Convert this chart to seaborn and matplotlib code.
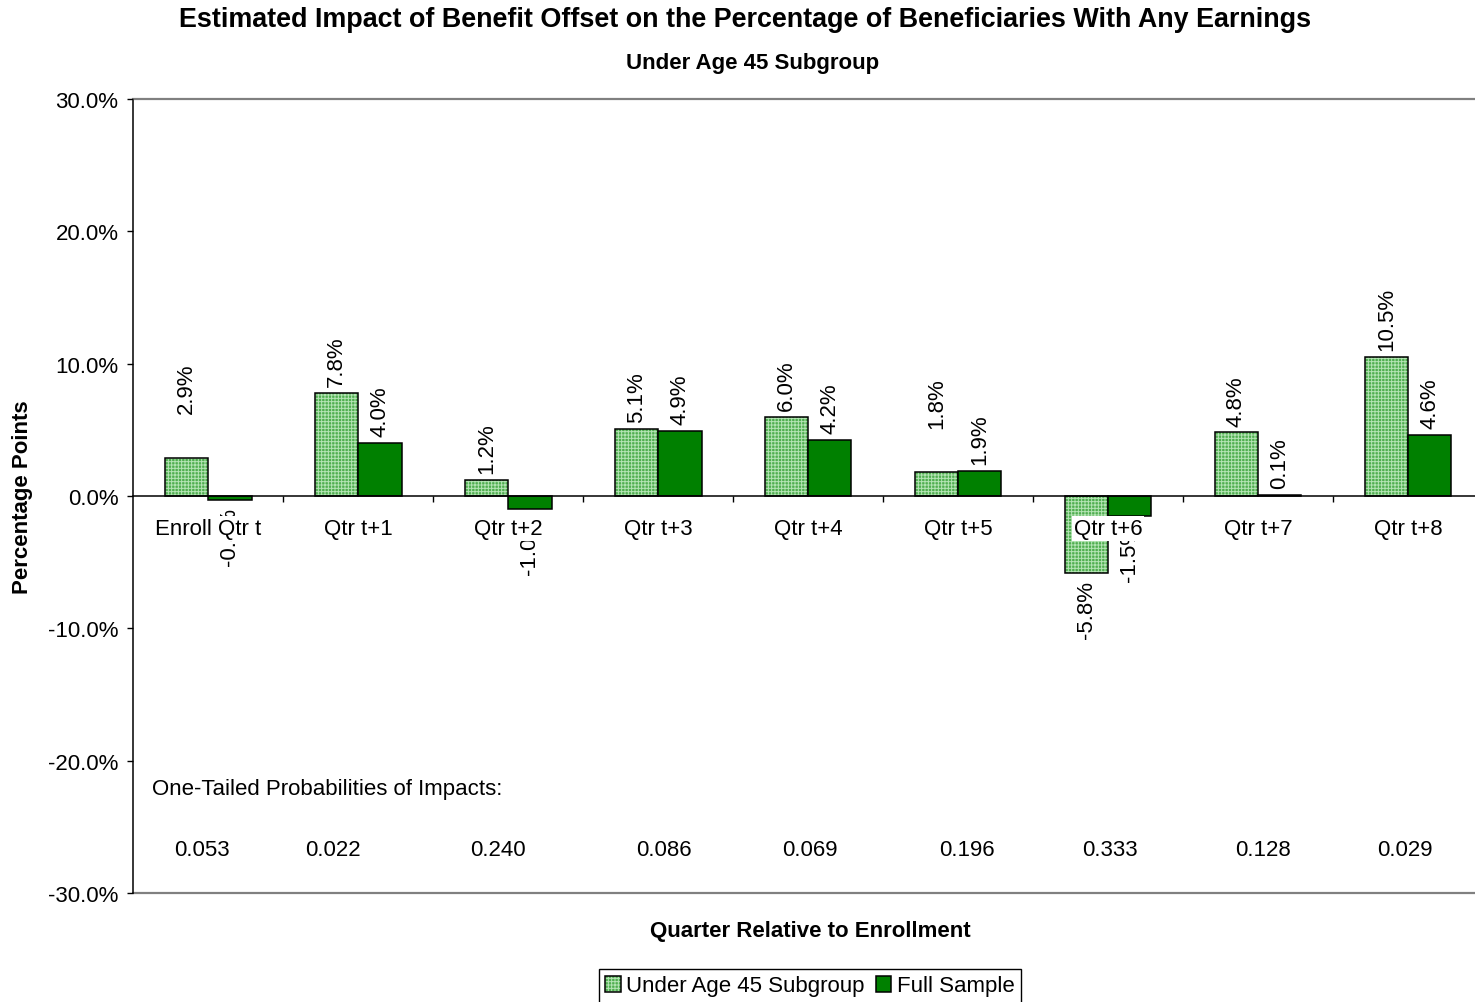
import numpy as np
import pandas as pd
import matplotlib
matplotlib.use("Agg")
import matplotlib.pyplot as plt
from matplotlib.colors import to_rgba
from matplotlib.patches import Patch
from matplotlib.ticker import FixedLocator, FuncFormatter
import seaborn as sns

# ---- data -------------------------------------------------------------
quarters = ["Enroll Qtr t", "Qtr t+1", "Qtr t+2", "Qtr t+3", "Qtr t+4",
            "Qtr t+5", "Qtr t+6", "Qtr t+7", "Qtr t+8"]
series_names = ["Under Age 45 Subgroup", "Full Sample"]
under45 = [2.9, 7.8, 1.2, 5.1, 6.0, 1.8, -5.8, 4.8, 10.5]
full_sample = [-0.3, 4.0, -1.0, 4.9, 4.2, 1.9, -1.5, 0.1, 4.6]
probabilities = ["0.053", "0.022", "0.240", "0.086", "0.069",
                 "0.196", "0.333", "0.128", "0.029"]
y_ticks = [-30, -20, -10, 0, 10, 20, 30]

# ---- styling / layout ---------------------------------------------------
LIGHT = "#4fae4f"
LIGHT_HATCH = "#b4e4b4"
DARK = "#008000"
GRAY = "#808080"
FS = 16
prob_x = [-0.04, 0.83, 1.93, 3.04, 4.01, 5.06, 6.01, 7.03, 7.98]
label_lift = {(0, 0): 27, (0, 5): 27}   # extra lift (points) for a few labels

df = pd.DataFrame({
    "Quarter": quarters * 2,
    "Impact": under45 + full_sample,
    "Series": [series_names[0]] * len(quarters) + [series_names[1]] * len(quarters),
})

sns.set_style("white")
plt.rcParams["font.family"] = ["Liberation Sans", "DejaVu Sans"]
plt.rcParams["hatch.linewidth"] = 0.7
for key in ["text.color", "axes.labelcolor", "xtick.color", "ytick.color"]:
    plt.rcParams[key] = "black"

W, H = 1475, 1003
fig = plt.figure(figsize=(W / 100, H / 100), dpi=100)
left_px, right_px, top_px, bot_px = 133, 1475, 100, 894
ax = fig.add_axes([left_px / W, 1 - bot_px / H, (right_px - left_px) / W,
                   (bot_px - top_px) / H])

sns.barplot(data=df, x="Quarter", y="Impact", hue="Series", order=quarters,
            hue_order=series_names, palette=[LIGHT, DARK], width=0.58,
            saturation=1, edgecolor="black", linewidth=1.1, errorbar=None,
            legend=False, ax=ax)
ax.set_axisbelow(False)

# checker-like fill on the subgroup bars
for bar in ax.containers[0]:
    bar.set_hatch("+++++")
    bar._hatch_color = to_rgba(LIGHT_HATCH)

ax.set_ylim(-30, 30)
ax.set_xlim(-0.5, -0.5 + (right_px - left_px) / 150)

ax.spines["bottom"].set_position(("data", 0))
ax.spines["bottom"].set_color("black")
ax.spines["bottom"].set_linewidth(1.1)
ax.spines["left"].set_color("black")
ax.spines["left"].set_linewidth(1.1)
ax.spines["top"].set_color(GRAY)
ax.spines["top"].set_linewidth(1.6)
ax.spines["right"].set_visible(False)
ax.axhline(-30, color=GRAY, lw=1.6, clip_on=False, zorder=2.5)

ax.set_yticks(y_ticks)
ax.yaxis.set_major_formatter(FuncFormatter(lambda v, p: f"{v:.1f}%"))
ax.tick_params(axis="y", direction="out", length=4.5, width=1, pad=6,
               labelsize=FS, left=True, color="black", labelcolor="black")

ax.set_xticks(range(len(quarters)))
ax.set_xticklabels(quarters)
ax.xaxis.set_minor_locator(FixedLocator(np.arange(0.5, len(quarters) - 0.5, 1)))
ax.tick_params(axis="x", which="major", length=0, pad=16, labelsize=FS,
               labelcolor="black")
ax.tick_params(axis="x", which="minor", direction="out", length=4.5, width=1,
               bottom=True, color="black")

# value labels above / below each bar (kept beneath the category labels)
for si, (cont, vals) in enumerate(zip(ax.containers, [under45, full_sample])):
    anns = ax.bar_label(cont, labels=[f"{v:.1f}%" for v in vals], padding=5,
                        rotation=90, fontsize=FS, zorder=2, color="black")
    for qi, ann in enumerate(anns):
        extra = label_lift.get((si, qi), 0)
        if extra:
            dx, dy = ann.xyann
            ann.xyann = (dx, dy + extra)

ax.set_ylabel("Percentage Points", fontsize=FS, fontweight="bold")
ax.yaxis.set_label_coords((22 - left_px) / (right_px - left_px), 0.5)
ax.yaxis.label.set_va("center")
ax.set_xlabel("Quarter Relative to Enrollment", fontsize=FS, fontweight="bold")
ax.xaxis.set_label_coords((810 - left_px) / (right_px - left_px),
                          (bot_px - 932) / (bot_px - top_px))
ax.xaxis.label.set_va("center")

ax.text(-0.37, -22.07, "One-Tailed Probabilities of Impacts:", fontsize=FS,
        ha="left", va="center")
for x, p in zip(prob_x, probabilities):
    ax.text(x, -26.68, p, fontsize=FS, ha="center", va="center")

fig.text(745 / W, 1 - 20 / H,
         "Estimated Impact of Benefit Offset on the Percentage of Beneficiaries With Any Earnings",
         ha="center", va="center", fontsize=19.4, fontweight="bold")
fig.text(753 / W, 1 - 63 / H, "Under Age 45 Subgroup", ha="center",
         va="center", fontsize=FS, fontweight="bold")

handles = [Patch(facecolor=LIGHT, edgecolor="black", hatch="+++++", lw=1.1),
           Patch(facecolor=DARK, edgecolor="black", lw=1.1)]
leg = fig.legend(handles, series_names, loc="center",
                 bbox_to_anchor=(810 / W, 1 - 987 / H), ncol=2, frameon=True,
                 fancybox=False, edgecolor="black", framealpha=1, fontsize=FS,
                 handlelength=0.7, handleheight=0.7, handletextpad=0.25,
                 columnspacing=0.5, borderpad=0.3, borderaxespad=0)
leg.get_frame().set_linewidth(1.0)
for h in leg.legend_handles:
    if h.get_hatch():
        h._hatch_color = to_rgba(LIGHT_HATCH)

# category labels sit on white boxes above bars and value labels
fig.canvas.draw()
for tick in ax.xaxis.get_major_ticks():
    tick.label1.set_bbox(dict(facecolor="white", edgecolor="none", pad=1.5))

fig.savefig("out.png", dpi=100)
